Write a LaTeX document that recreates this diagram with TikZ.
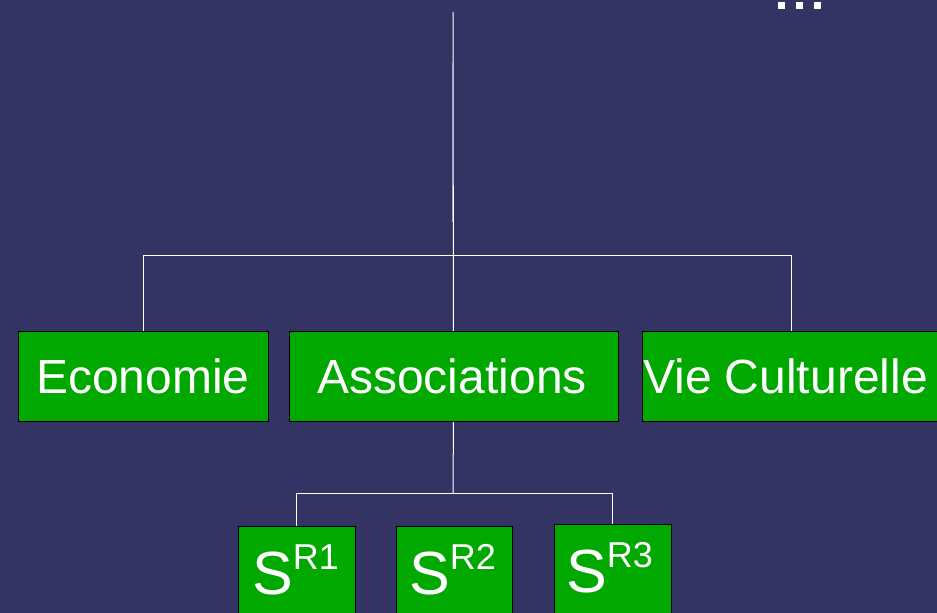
\documentclass[tikz,border=0pt]{standalone}
\usepackage{fontspec}
\setmainfont{Liberation Sans}
\definecolor{bgblue}{RGB}{52,52,100}
\definecolor{boxgreen}{RGB}{0,168,0}
\definecolor{greyline}{RGB}{165,165,205}
\begin{document}
\begin{tikzpicture}[x=1pt,y=-1pt,
  box/.style={draw=black, line width=0.9pt, fill=boxgreen, inner sep=0pt, anchor=north west},
  conn/.style={draw=white, line width=1pt},
  lbl/.style={text=white, inner sep=0pt, font=\fontsize{48}{48}\selectfont},
  slbl/.style={text=white, inner sep=0pt, anchor=base west}]
\useasboundingbox (0,0) rectangle (937,613);
\fill[bgblue] (0,0) rectangle (937,613);
\clip (0,0) rectangle (937,613);
% dots at top right
\fill[white] (778,2) rectangle (785,9);
\fill[white] (796,2) rectangle (803,9);
\fill[white] (814,2) rectangle (821,9);
% boxes
\node[box, minimum width=250pt, minimum height=90pt] (eco) at (18,331) {};
\node[box, minimum width=329pt, minimum height=90pt] (asso) at (288.5,331) {};
\node[box, minimum width=298pt, minimum height=90pt] (vie) at (642,331) {};
\node[box, minimum width=117pt, minimum height=100pt] (s1) at (238,526) {};
\node[box, minimum width=116pt, minimum height=100pt] (s2) at (395.5,526) {};
\node[box, minimum width=117pt, minimum height=100pt] (s3) at (553.5,524) {};
% labels
\node[lbl, anchor=base] (ecoT) at (143,393) {Economie};
\node[lbl, anchor=base] (assoT) at (452,393) {Associations};
\node[lbl, anchor=base west] (vieT) at (643,393) {Vie Culturelle};
\node[slbl] (s1T) at (252,594) {\fontsize{61}{61}\selectfont S\raisebox{25pt}{\fontsize{36}{36}\selectfont R1}};
\node[slbl] (s2T) at (409,594) {\fontsize{61}{61}\selectfont S\raisebox{25pt}{\fontsize{36}{36}\selectfont R2}};
\node[slbl] (s3T) at (566,592) {\fontsize{61}{61}\selectfont S\raisebox{25pt}{\fontsize{36}{36}\selectfont R3}};
% connectors
\coordinate (top) at (453,12);
\coordinate (j1) at (453,255);
\coordinate (j2) at (453,493);
\draw[conn] (top) -- (asso.north);
\draw[greyline, line width=1.3pt] (452.7,63) -- (452.7,222);
\draw[conn] (eco.north) -- (eco.north |- j1) -- (vie.north |- j1) -- (vie.north);
\draw[conn] (asso.south) -- (j2);
\draw[conn] (s1.north) -- (s1.north |- j2) -- (s3.north |- j2) -- (s3.north);
\end{tikzpicture}
\end{document}
